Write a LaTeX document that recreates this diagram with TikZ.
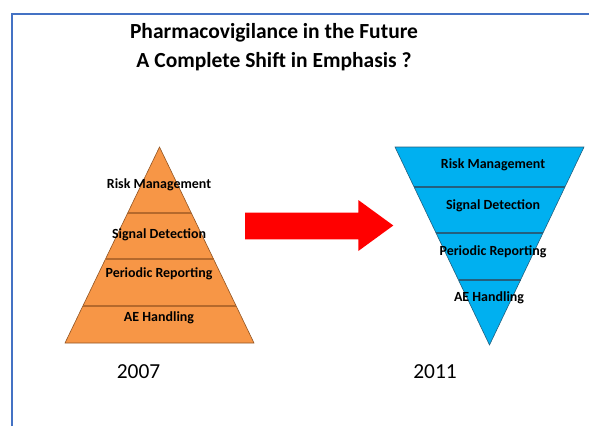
\documentclass[tikz,border=0pt]{standalone}
\usepackage{fontspec}
\setmainfont{Carlito}
\usepackage{tikz}

\definecolor{pvorange}{HTML}{F79646}
\definecolor{pvorangeline}{HTML}{B5692C}
\definecolor{pvblue}{HTML}{00B0F0}
\definecolor{pvblueline}{HTML}{24607E}
\definecolor{pvframe}{HTML}{4472C4}

\tikzset{
	tier/.style={font=\fontsize{14}{16}\bfseries, inner sep=0pt},
	year/.style={font=\fontsize{21.5}{24}\selectfont, inner sep=0pt},
}

\begin{document}
\begin{tikzpicture}[x=1bp,y=-1bp]
	\useasboundingbox (0,0) rectangle (589,426);
	
	% frame
	\draw[pvframe, line width=2bp] (12,426) -- (12,14) -- (589,14);
	
	\node[font=\fontsize{21.6}{29}\bfseries, align=center] (title) at (274,47.5)
		{Pharmacovigilance in the Future\\A Complete Shift in Emphasis ?};
	
	% 2007 pyramid
	\draw[fill=pvorange, draw=pvorangeline!80!black, line width=0.6bp]
		(159.5,147) -- (254,343) -- (65,343) -- cycle;
	\foreach \y/\w in {213/31.8, 259/54, 306/76.7}
		\draw[pvorangeline, line width=1.2bp] (159.5-\w,\y) -- (159.5+\w,\y);
	
	\node[tier] (riskA) at (159,185) {Risk Management};
	\node[tier] (signalA) at (159,235) {Signal Detection};
	\node[tier] (periodicA) at (159,274) {Periodic Reporting};
	\node[tier] (aeA) at (159,318) {AE Handling};
	
	% 2011 pyramid, upside down
	\draw[fill=pvblue, draw=pvblueline, line width=0.6bp]
		(395,147) -- (584,147) -- (489.5,345) -- cycle;
	\foreach \y/\w in {187/75.4, 233/53.5, 280/31}
		\draw[pvblueline, line width=1.2bp] (489.5-\w,\y) -- (489.5+\w,\y);
	
	\node[tier] (riskB) at (493,165) {Risk Management};
	\node[tier] (signalB) at (493,206) {Signal Detection};
	\node[tier] (periodicB) at (493,252) {Periodic Reporting};
	\node[tier] (aeB) at (489,298) {AE Handling};
	
	% shift arrow
	\fill[red] (245,212.7) -- (358.3,212.7) -- (358.3,200) -- (393.3,225.5)
		-- (358.3,251) -- (358.3,239.3) -- (245,239.3) -- cycle;
	
	\node[year] (yearA) at (138.5,372) {2007};
	\node[year] (yearB) at (435,372) {2011};
	
\end{tikzpicture}
\end{document}
